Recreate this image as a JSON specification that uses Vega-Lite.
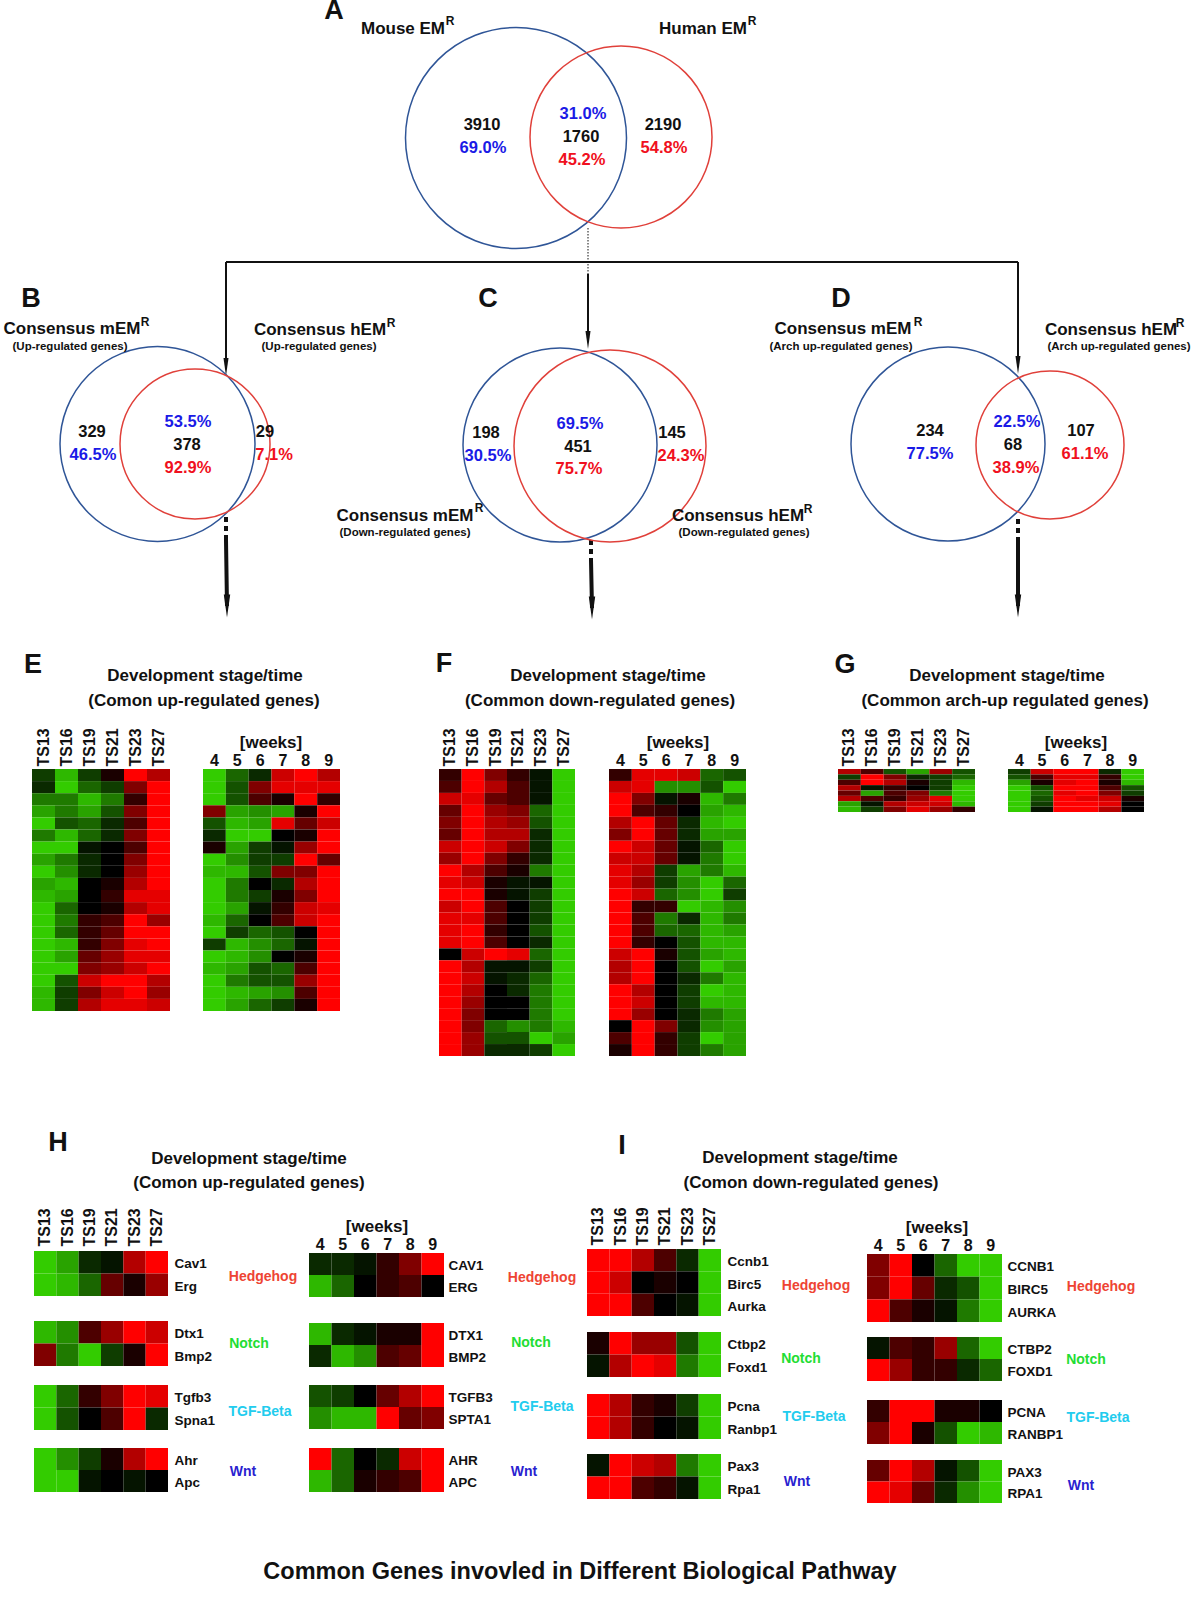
{"$schema":"https://vega.github.io/schema/vega-lite/v6.json","width":1200,"height":1620,"autosize":{"type":"none"},"padding":0,"background":"white",
"config":{"view":{"stroke":null},"font":"Liberation Sans","axisRight":{"labelOffset":2},"axis":{"domain":false,"ticks":false,"grid":false,"labelFont":"Liberation Sans","labelFontSize":16,"labelFontWeight":"bold","labelColor":"#111111","labelOverlap":false,"labelFlush":false,"labelPadding":0}},
"resolve":{"scale":{"x":"independent","y":"independent","color":"independent","size":"independent","stroke":"independent"}},
"datasets":{
"links":[{"from":1,"to":2,"style":"solid"},{"from":1,"to":3,"style":"solid"},{"from":2,"to":4,"style":"solid"},{"from":5,"to":6,"style":"dotted"},{"from":6,"to":7,"style":"solid"},{"from":8,"to":9,"style":"dashed"},{"from":9,"to":10,"style":"thick"},{"from":11,"to":12,"style":"dashed"},{"from":12,"to":13,"style":"thick"},{"from":14,"to":15,"style":"dashed"},{"from":15,"to":16,"style":"thick"}],
"heads":[{"node":3,"kind":"thin"},{"node":4,"kind":"thin"},{"node":7,"kind":"thin"},{"node":10,"kind":"thick"},{"node":13,"kind":"thick"},{"node":16,"kind":"thick"}],
"sets":[{"id":1,"venn":"A","set":"Mouse EMR","species":"mouse"},{"id":2,"venn":"A","set":"Human EMR","species":"human"},{"id":3,"venn":"B","set":"Consensus mEMR up","species":"mouse"},{"id":4,"venn":"B","set":"Consensus hEMR up","species":"human"},{"id":5,"venn":"C","set":"Consensus mEMR down","species":"mouse"},{"id":6,"venn":"C","set":"Consensus hEMR down","species":"human"},{"id":7,"venn":"D","set":"Consensus mEMR arch","species":"mouse"},{"id":8,"venn":"D","set":"Consensus hEMR arch","species":"human"}],
"labels":[{"id":1,"label":"A","kind":"letter","tone":"black"},{"id":2,"label":"Mouse EM","kind":"head","tone":"black"},{"id":3,"label":"R","kind":"sup","tone":"black"},{"id":4,"label":"Human EM","kind":"head","tone":"black"},{"id":5,"label":"R","kind":"sup","tone":"black"},{"id":6,"label":"3910","kind":"num","tone":"black"},{"id":7,"label":"69.0%","kind":"num","tone":"blue"},{"id":8,"label":"31.0%","kind":"num","tone":"blue"},{"id":9,"label":"1760","kind":"num","tone":"black"},{"id":10,"label":"45.2%","kind":"num","tone":"red"},{"id":11,"label":"2190","kind":"num","tone":"black"},{"id":12,"label":"54.8%","kind":"num","tone":"red"},
{"id":13,"label":"B","kind":"letter","tone":"black"},{"id":14,"label":"Consensus mEM","kind":"head","tone":"black"},{"id":15,"label":"R","kind":"sup","tone":"black"},{"id":16,"label":"(Up-regulated genes)","kind":"sub","tone":"black"},{"id":17,"label":"Consensus hEM","kind":"head","tone":"black"},{"id":18,"label":"R","kind":"sup","tone":"black"},{"id":19,"label":"(Up-regulated genes)","kind":"sub","tone":"black"},{"id":20,"label":"329","kind":"num","tone":"black"},{"id":21,"label":"46.5%","kind":"num","tone":"blue"},{"id":22,"label":"53.5%","kind":"num","tone":"blue"},{"id":23,"label":"378","kind":"num","tone":"black"},{"id":24,"label":"92.9%","kind":"num","tone":"red"},{"id":25,"label":"29","kind":"num","tone":"black"},{"id":26,"label":"7.1%","kind":"num","tone":"red"},
{"id":27,"label":"C","kind":"letter","tone":"black"},{"id":28,"label":"Consensus mEM","kind":"head","tone":"black"},{"id":29,"label":"R","kind":"sup","tone":"black"},{"id":30,"label":"(Down-regulated genes)","kind":"sub","tone":"black"},{"id":31,"label":"Consensus hEM","kind":"head","tone":"black"},{"id":32,"label":"R","kind":"sup","tone":"black"},{"id":33,"label":"(Down-regulated genes)","kind":"sub","tone":"black"},{"id":34,"label":"198","kind":"num","tone":"black"},{"id":35,"label":"30.5%","kind":"num","tone":"blue"},{"id":36,"label":"69.5%","kind":"num","tone":"blue"},{"id":37,"label":"451","kind":"num","tone":"black"},{"id":38,"label":"75.7%","kind":"num","tone":"red"},{"id":39,"label":"145","kind":"num","tone":"black"},{"id":40,"label":"24.3%","kind":"num","tone":"red"},
{"id":41,"label":"D","kind":"letter","tone":"black"},{"id":42,"label":"Consensus mEM","kind":"head","tone":"black"},{"id":43,"label":"R","kind":"sup","tone":"black"},{"id":44,"label":"(Arch up-regulated genes)","kind":"sub","tone":"black"},{"id":45,"label":"Consensus hEM","kind":"head","tone":"black"},{"id":46,"label":"R","kind":"sup","tone":"black"},{"id":47,"label":"(Arch up-regulated genes)","kind":"sub","tone":"black"},{"id":48,"label":"234","kind":"num","tone":"black"},{"id":49,"label":"77.5%","kind":"num","tone":"blue"},{"id":50,"label":"22.5%","kind":"num","tone":"blue"},{"id":51,"label":"68","kind":"num","tone":"black"},{"id":52,"label":"38.9%","kind":"num","tone":"red"},{"id":53,"label":"107","kind":"num","tone":"black"},{"id":54,"label":"61.1%","kind":"num","tone":"red"},
{"id":55,"label":"E","kind":"letter","tone":"black"},{"id":56,"label":"Development stage/time","kind":"title","tone":"black"},{"id":57,"label":"(Comon up-regulated genes)","kind":"title","tone":"black"},{"id":58,"label":"[weeks]","kind":"title","tone":"black"},{"id":59,"label":"F","kind":"letter","tone":"black"},{"id":60,"label":"Development stage/time","kind":"title","tone":"black"},{"id":61,"label":"(Common down-regulated genes)","kind":"title","tone":"black"},{"id":62,"label":"[weeks]","kind":"title","tone":"black"},{"id":63,"label":"G","kind":"letter","tone":"black"},{"id":64,"label":"Development stage/time","kind":"title","tone":"black"},{"id":65,"label":"(Common arch-up regulated genes)","kind":"title","tone":"black"},{"id":66,"label":"[weeks]","kind":"title","tone":"black"},{"id":67,"label":"H","kind":"letter","tone":"black"},{"id":68,"label":"Development stage/time","kind":"title","tone":"black"},{"id":69,"label":"(Comon up-regulated genes)","kind":"title","tone":"black"},{"id":70,"label":"[weeks]","kind":"title","tone":"black"},{"id":71,"label":"I","kind":"letter","tone":"black"},{"id":72,"label":"Development stage/time","kind":"title","tone":"black"},{"id":73,"label":"(Comon down-regulated genes)","kind":"title","tone":"black"},{"id":74,"label":"[weeks]","kind":"title","tone":"black"},
{"id":75,"label":"Hedgehog","kind":"path","tone":"hedgehog"},{"id":76,"label":"Notch","kind":"path","tone":"notch"},{"id":77,"label":"TGF-Beta","kind":"path","tone":"tgf"},{"id":78,"label":"Wnt","kind":"path","tone":"wnt"},{"id":79,"label":"Hedgehog","kind":"path","tone":"hedgehog"},{"id":80,"label":"Notch","kind":"path","tone":"notch"},{"id":81,"label":"TGF-Beta","kind":"path","tone":"tgf"},{"id":82,"label":"Wnt","kind":"path","tone":"wnt"},{"id":83,"label":"Hedgehog","kind":"path","tone":"hedgehog"},{"id":84,"label":"Notch","kind":"path","tone":"notch"},{"id":85,"label":"TGF-Beta","kind":"path","tone":"tgf"},{"id":86,"label":"Wnt","kind":"path","tone":"wnt"},{"id":87,"label":"Hedgehog","kind":"path","tone":"hedgehog"},{"id":88,"label":"Notch","kind":"path","tone":"notch"},{"id":89,"label":"TGF-Beta","kind":"path","tone":"tgf"},{"id":90,"label":"Wnt","kind":"path","tone":"wnt"},{"id":91,"label":"Common Genes invovled in Different Biological Pathway","kind":"foot","tone":"black"}],
"E1":[{"s":"TS13","g":1,"v":-3},{"s":"TS16","g":1,"v":-9},{"s":"TS19","g":1,"v":-3},{"s":"TS21","g":1,"v":1},{"s":"TS23","g":1,"v":10},{"s":"TS27","g":1,"v":7},{"s":"TS13","g":2,"v":-2},{"s":"TS16","g":2,"v":-10},{"s":"TS19","g":2,"v":-5},{"s":"TS21","g":2,"v":-3},{"s":"TS23","g":2,"v":5},{"s":"TS27","g":2,"v":10},{"s":"TS13","g":3,"v":-6},{"s":"TS16","g":3,"v":-6},{"s":"TS19","g":3,"v":-9},{"s":"TS21","g":3,"v":-6},{"s":"TS23","g":3,"v":2},{"s":"TS27","g":3,"v":10},{"s":"TS13","g":4,"v":-8},{"s":"TS16","g":4,"v":-6},{"s":"TS19","g":4,"v":-8},{"s":"TS21","g":4,"v":-4},{"s":"TS23","g":4,"v":5},{"s":"TS27","g":4,"v":10},{"s":"TS13","g":5,"v":-10},{"s":"TS16","g":5,"v":-4},{"s":"TS19","g":5,"v":-5},{"s":"TS21","g":5,"v":-2},{"s":"TS23","g":5,"v":3},{"s":"TS27","g":5,"v":10},{"s":"TS13","g":6,"v":-6},{"s":"TS16","g":6,"v":-9},{"s":"TS19","g":6,"v":-5},{"s":"TS21","g":6,"v":-2},{"s":"TS23","g":6,"v":5},{"s":"TS27","g":6,"v":10},{"s":"TS13","g":7,"v":-10},{"s":"TS16","g":7,"v":-10},{"s":"TS19","g":7,"v":-1},{"s":"TS21","g":7,"v":0},{"s":"TS23","g":7,"v":3},{"s":"TS27","g":7,"v":10},{"s":"TS13","g":8,"v":-8},{"s":"TS16","g":8,"v":-6},{"s":"TS19","g":8,"v":-2},{"s":"TS21","g":8,"v":0},{"s":"TS23","g":8,"v":5},{"s":"TS27","g":8,"v":10},{"s":"TS13","g":9,"v":-10},{"s":"TS16","g":9,"v":-7},{"s":"TS19","g":9,"v":-2},{"s":"TS21","g":9,"v":0},{"s":"TS23","g":9,"v":6},{"s":"TS27","g":9,"v":10},{"s":"TS13","g":10,"v":-8},{"s":"TS16","g":10,"v":-9},{"s":"TS19","g":10,"v":0},{"s":"TS21","g":10,"v":1},{"s":"TS23","g":10,"v":7},{"s":"TS27","g":10,"v":10},{"s":"TS13","g":11,"v":-9},{"s":"TS16","g":11,"v":-8},{"s":"TS19","g":11,"v":0},{"s":"TS21","g":11,"v":2},{"s":"TS23","g":11,"v":9},{"s":"TS27","g":11,"v":9},{"s":"TS13","g":12,"v":-10},{"s":"TS16","g":12,"v":-5},{"s":"TS19","g":12,"v":0},{"s":"TS21","g":12,"v":1},{"s":"TS23","g":12,"v":7},{"s":"TS27","g":12,"v":9},{"s":"TS13","g":13,"v":-10},{"s":"TS16","g":13,"v":-6},{"s":"TS19","g":13,"v":2},{"s":"TS21","g":13,"v":3},{"s":"TS23","g":13,"v":10},{"s":"TS27","g":13,"v":6},{"s":"TS13","g":14,"v":-10},{"s":"TS16","g":14,"v":-5},{"s":"TS19","g":14,"v":2},{"s":"TS21","g":14,"v":4},{"s":"TS23","g":14,"v":10},{"s":"TS27","g":14,"v":10},{"s":"TS13","g":15,"v":-10},{"s":"TS16","g":15,"v":-9},{"s":"TS19","g":15,"v":2},{"s":"TS21","g":15,"v":5},{"s":"TS23","g":15,"v":9},{"s":"TS27","g":15,"v":10},{"s":"TS13","g":16,"v":-10},{"s":"TS16","g":16,"v":-8},{"s":"TS19","g":16,"v":4},{"s":"TS21","g":16,"v":6},{"s":"TS23","g":16,"v":9},{"s":"TS27","g":16,"v":9},{"s":"TS13","g":17,"v":-10},{"s":"TS16","g":17,"v":-10},{"s":"TS19","g":17,"v":5},{"s":"TS21","g":17,"v":6},{"s":"TS23","g":17,"v":8},{"s":"TS27","g":17,"v":10},{"s":"TS13","g":18,"v":-10},{"s":"TS16","g":18,"v":-4},{"s":"TS19","g":18,"v":8},{"s":"TS21","g":18,"v":10},{"s":"TS23","g":18,"v":10},{"s":"TS27","g":18,"v":7},{"s":"TS13","g":19,"v":-9},{"s":"TS16","g":19,"v":-3},{"s":"TS19","g":19,"v":5},{"s":"TS21","g":19,"v":8},{"s":"TS23","g":19,"v":10},{"s":"TS27","g":19,"v":6},{"s":"TS13","g":20,"v":-9},{"s":"TS16","g":20,"v":-3},{"s":"TS19","g":20,"v":7},{"s":"TS21","g":20,"v":9},{"s":"TS23","g":20,"v":9},{"s":"TS27","g":20,"v":8}],
"E2":[{"s":"4","g":1,"v":-10},{"s":"5","g":1,"v":-5},{"s":"6","g":1,"v":-2},{"s":"7","g":1,"v":8},{"s":"8","g":1,"v":10},{"s":"9","g":1,"v":7},{"s":"4","g":2,"v":-10},{"s":"5","g":2,"v":-4},{"s":"6","g":2,"v":5},{"s":"7","g":2,"v":9},{"s":"8","g":2,"v":9},{"s":"9","g":2,"v":9},{"s":"4","g":3,"v":-10},{"s":"5","g":3,"v":-4},{"s":"6","g":3,"v":3},{"s":"7","g":3,"v":1},{"s":"8","g":3,"v":10},{"s":"9","g":3,"v":2},{"s":"4","g":4,"v":5},{"s":"5","g":4,"v":-8},{"s":"6","g":4,"v":-7},{"s":"7","g":4,"v":-8},{"s":"8","g":4,"v":1},{"s":"9","g":4,"v":10},{"s":"4","g":5,"v":-4},{"s":"5","g":5,"v":-9},{"s":"6","g":5,"v":-8},{"s":"7","g":5,"v":9},{"s":"8","g":5,"v":4},{"s":"9","g":5,"v":8},{"s":"4","g":6,"v":-2},{"s":"5","g":6,"v":-10},{"s":"6","g":6,"v":-10},{"s":"7","g":6,"v":0},{"s":"8","g":6,"v":1},{"s":"9","g":6,"v":10},{"s":"4","g":7,"v":1},{"s":"5","g":7,"v":-8},{"s":"6","g":7,"v":-3},{"s":"7","g":7,"v":-1},{"s":"8","g":7,"v":6},{"s":"9","g":7,"v":10},{"s":"4","g":8,"v":-10},{"s":"5","g":8,"v":-7},{"s":"6","g":8,"v":-3},{"s":"7","g":8,"v":-3},{"s":"8","g":8,"v":10},{"s":"9","g":8,"v":4},{"s":"4","g":9,"v":-9},{"s":"5","g":9,"v":-9},{"s":"6","g":9,"v":-4},{"s":"7","g":9,"v":5},{"s":"8","g":9,"v":5},{"s":"9","g":9,"v":10},{"s":"4","g":10,"v":-10},{"s":"5","g":10,"v":-6},{"s":"6","g":10,"v":0},{"s":"7","g":10,"v":-2},{"s":"8","g":10,"v":7},{"s":"9","g":10,"v":10},{"s":"4","g":11,"v":-10},{"s":"5","g":11,"v":-6},{"s":"6","g":11,"v":-3},{"s":"7","g":11,"v":1},{"s":"8","g":11,"v":5},{"s":"9","g":11,"v":10},{"s":"4","g":12,"v":-10},{"s":"5","g":12,"v":-8},{"s":"6","g":12,"v":-1},{"s":"7","g":12,"v":2},{"s":"8","g":12,"v":8},{"s":"9","g":12,"v":9},{"s":"4","g":13,"v":-9},{"s":"5","g":13,"v":-5},{"s":"6","g":13,"v":0},{"s":"7","g":13,"v":3},{"s":"8","g":13,"v":8},{"s":"9","g":13,"v":10},{"s":"4","g":14,"v":-10},{"s":"5","g":14,"v":-3},{"s":"6","g":14,"v":-5},{"s":"7","g":14,"v":-4},{"s":"8","g":14,"v":0},{"s":"9","g":14,"v":10},{"s":"4","g":15,"v":-3},{"s":"5","g":15,"v":-9},{"s":"6","g":15,"v":-7},{"s":"7","g":15,"v":-5},{"s":"8","g":15,"v":-1},{"s":"9","g":15,"v":10},{"s":"4","g":16,"v":-10},{"s":"5","g":16,"v":-9},{"s":"6","g":16,"v":-7},{"s":"7","g":16,"v":0},{"s":"8","g":16,"v":1},{"s":"9","g":16,"v":10},{"s":"4","g":17,"v":-9},{"s":"5","g":17,"v":-8},{"s":"6","g":17,"v":-4},{"s":"7","g":17,"v":-5},{"s":"8","g":17,"v":3},{"s":"9","g":17,"v":10},{"s":"4","g":18,"v":-10},{"s":"5","g":18,"v":-6},{"s":"6","g":18,"v":-4},{"s":"7","g":18,"v":-4},{"s":"8","g":18,"v":6},{"s":"9","g":18,"v":10},{"s":"4","g":19,"v":-10},{"s":"5","g":19,"v":-9},{"s":"6","g":19,"v":-8},{"s":"7","g":19,"v":-7},{"s":"8","g":19,"v":3},{"s":"9","g":19,"v":10},{"s":"4","g":20,"v":-10},{"s":"5","g":20,"v":-8},{"s":"6","g":20,"v":-5},{"s":"7","g":20,"v":-3},{"s":"8","g":20,"v":1},{"s":"9","g":20,"v":10}],
"F1":[{"s":"TS13","g":1,"v":2},{"s":"TS16","g":1,"v":10},{"s":"TS19","g":1,"v":5},{"s":"TS21","g":1,"v":2},{"s":"TS23","g":1,"v":-1},{"s":"TS27","g":1,"v":-10},{"s":"TS13","g":2,"v":3},{"s":"TS16","g":2,"v":10},{"s":"TS19","g":2,"v":7},{"s":"TS21","g":2,"v":3},{"s":"TS23","g":2,"v":-1},{"s":"TS27","g":2,"v":-10},{"s":"TS13","g":3,"v":8},{"s":"TS16","g":3,"v":9},{"s":"TS19","g":3,"v":4},{"s":"TS21","g":3,"v":3},{"s":"TS23","g":3,"v":-1},{"s":"TS27","g":3,"v":-10},{"s":"TS13","g":4,"v":4},{"s":"TS16","g":4,"v":10},{"s":"TS19","g":4,"v":6},{"s":"TS21","g":4,"v":5},{"s":"TS23","g":4,"v":-5},{"s":"TS27","g":4,"v":-10},{"s":"TS13","g":5,"v":5},{"s":"TS16","g":5,"v":10},{"s":"TS19","g":5,"v":7},{"s":"TS21","g":5,"v":6},{"s":"TS23","g":5,"v":-4},{"s":"TS27","g":5,"v":-10},{"s":"TS13","g":6,"v":4},{"s":"TS16","g":6,"v":10},{"s":"TS19","g":6,"v":7},{"s":"TS21","g":6,"v":7},{"s":"TS23","g":6,"v":-2},{"s":"TS27","g":6,"v":-10},{"s":"TS13","g":7,"v":8},{"s":"TS16","g":7,"v":10},{"s":"TS19","g":7,"v":8},{"s":"TS21","g":7,"v":5},{"s":"TS23","g":7,"v":-2},{"s":"TS27","g":7,"v":-10},{"s":"TS13","g":8,"v":6},{"s":"TS16","g":8,"v":10},{"s":"TS19","g":8,"v":5},{"s":"TS21","g":8,"v":2},{"s":"TS23","g":8,"v":-2},{"s":"TS27","g":8,"v":-10},{"s":"TS13","g":9,"v":10},{"s":"TS16","g":9,"v":7},{"s":"TS19","g":9,"v":3},{"s":"TS21","g":9,"v":1},{"s":"TS23","g":9,"v":-6},{"s":"TS27","g":9,"v":-10},{"s":"TS13","g":10,"v":9},{"s":"TS16","g":10,"v":8},{"s":"TS19","g":10,"v":1},{"s":"TS21","g":10,"v":-1},{"s":"TS23","g":10,"v":-1},{"s":"TS27","g":10,"v":-10},{"s":"TS13","g":11,"v":10},{"s":"TS16","g":11,"v":10},{"s":"TS19","g":11,"v":1},{"s":"TS21","g":11,"v":-1},{"s":"TS23","g":11,"v":-3},{"s":"TS27","g":11,"v":-10},{"s":"TS13","g":12,"v":8},{"s":"TS16","g":12,"v":10},{"s":"TS19","g":12,"v":3},{"s":"TS21","g":12,"v":0},{"s":"TS23","g":12,"v":-3},{"s":"TS27","g":12,"v":-10},{"s":"TS13","g":13,"v":9},{"s":"TS16","g":13,"v":9},{"s":"TS19","g":13,"v":3},{"s":"TS21","g":13,"v":0},{"s":"TS23","g":13,"v":-3},{"s":"TS27","g":13,"v":-10},{"s":"TS13","g":14,"v":9},{"s":"TS16","g":14,"v":10},{"s":"TS19","g":14,"v":2},{"s":"TS21","g":14,"v":0},{"s":"TS23","g":14,"v":-4},{"s":"TS27","g":14,"v":-10},{"s":"TS13","g":15,"v":9},{"s":"TS16","g":15,"v":10},{"s":"TS19","g":15,"v":3},{"s":"TS21","g":15,"v":0},{"s":"TS23","g":15,"v":-2},{"s":"TS27","g":15,"v":-10},{"s":"TS13","g":16,"v":0},{"s":"TS16","g":16,"v":8},{"s":"TS19","g":16,"v":10},{"s":"TS21","g":16,"v":9},{"s":"TS23","g":16,"v":-5},{"s":"TS27","g":16,"v":-10},{"s":"TS13","g":17,"v":10},{"s":"TS16","g":17,"v":7},{"s":"TS19","g":17,"v":-1},{"s":"TS21","g":17,"v":-1},{"s":"TS23","g":17,"v":-3},{"s":"TS27","g":17,"v":-10},{"s":"TS13","g":18,"v":10},{"s":"TS16","g":18,"v":8},{"s":"TS19","g":18,"v":-1},{"s":"TS21","g":18,"v":-2},{"s":"TS23","g":18,"v":-5},{"s":"TS27","g":18,"v":-10},{"s":"TS13","g":19,"v":10},{"s":"TS16","g":19,"v":7},{"s":"TS19","g":19,"v":0},{"s":"TS21","g":19,"v":-2},{"s":"TS23","g":19,"v":-6},{"s":"TS27","g":19,"v":-10},{"s":"TS13","g":20,"v":10},{"s":"TS16","g":20,"v":6},{"s":"TS19","g":20,"v":0},{"s":"TS21","g":20,"v":0},{"s":"TS23","g":20,"v":-6},{"s":"TS27","g":20,"v":-10},{"s":"TS13","g":21,"v":10},{"s":"TS16","g":21,"v":5},{"s":"TS19","g":21,"v":0},{"s":"TS21","g":21,"v":0},{"s":"TS23","g":21,"v":-6},{"s":"TS27","g":21,"v":-10},{"s":"TS13","g":22,"v":10},{"s":"TS16","g":22,"v":5},{"s":"TS19","g":22,"v":-5},{"s":"TS21","g":22,"v":-7},{"s":"TS23","g":22,"v":-6},{"s":"TS27","g":22,"v":-9},{"s":"TS13","g":23,"v":10},{"s":"TS16","g":23,"v":6},{"s":"TS19","g":23,"v":-4},{"s":"TS21","g":23,"v":-4},{"s":"TS23","g":23,"v":-10},{"s":"TS27","g":23,"v":-8},{"s":"TS13","g":24,"v":10},{"s":"TS16","g":24,"v":6},{"s":"TS19","g":24,"v":-2},{"s":"TS21","g":24,"v":-2},{"s":"TS23","g":24,"v":-3},{"s":"TS27","g":24,"v":-10}],
"F2":[{"s":"4","g":1,"v":2},{"s":"5","g":1,"v":9},{"s":"6","g":1,"v":9},{"s":"7","g":1,"v":8},{"s":"8","g":1,"v":-5},{"s":"9","g":1,"v":-4},{"s":"4","g":2,"v":8},{"s":"5","g":2,"v":9},{"s":"6","g":2,"v":-7},{"s":"7","g":2,"v":-7},{"s":"8","g":2,"v":-4},{"s":"9","g":2,"v":-10},{"s":"4","g":3,"v":10},{"s":"5","g":3,"v":5},{"s":"6","g":3,"v":-1},{"s":"7","g":3,"v":1},{"s":"8","g":3,"v":-9},{"s":"9","g":3,"v":-6},{"s":"4","g":4,"v":10},{"s":"5","g":4,"v":3},{"s":"6","g":4,"v":2},{"s":"7","g":4,"v":0},{"s":"8","g":4,"v":-8},{"s":"9","g":4,"v":-9},{"s":"4","g":5,"v":7},{"s":"5","g":5,"v":10},{"s":"6","g":5,"v":4},{"s":"7","g":5,"v":-2},{"s":"8","g":5,"v":-9},{"s":"9","g":5,"v":-10},{"s":"4","g":6,"v":5},{"s":"5","g":6,"v":10},{"s":"6","g":6,"v":4},{"s":"7","g":6,"v":-2},{"s":"8","g":6,"v":-8},{"s":"9","g":6,"v":-8},{"s":"4","g":7,"v":10},{"s":"5","g":7,"v":8},{"s":"6","g":7,"v":4},{"s":"7","g":7,"v":-1},{"s":"8","g":7,"v":-5},{"s":"9","g":7,"v":-10},{"s":"4","g":8,"v":8},{"s":"5","g":8,"v":8},{"s":"6","g":8,"v":4},{"s":"7","g":8,"v":-1},{"s":"8","g":8,"v":-6},{"s":"9","g":8,"v":-10},{"s":"4","g":9,"v":9},{"s":"5","g":9,"v":7},{"s":"6","g":9,"v":-3},{"s":"7","g":9,"v":-8},{"s":"8","g":9,"v":-6},{"s":"9","g":9,"v":-9},{"s":"4","g":10,"v":9},{"s":"5","g":10,"v":6},{"s":"6","g":10,"v":-3},{"s":"7","g":10,"v":-7},{"s":"8","g":10,"v":-10},{"s":"9","g":10,"v":-5},{"s":"4","g":11,"v":10},{"s":"5","g":11,"v":8},{"s":"6","g":11,"v":-5},{"s":"7","g":11,"v":-7},{"s":"8","g":11,"v":-10},{"s":"9","g":11,"v":-3},{"s":"4","g":12,"v":10},{"s":"5","g":12,"v":2},{"s":"6","g":12,"v":2},{"s":"7","g":12,"v":-10},{"s":"8","g":12,"v":-9},{"s":"9","g":12,"v":-7},{"s":"4","g":13,"v":10},{"s":"5","g":13,"v":3},{"s":"6","g":13,"v":-6},{"s":"7","g":13,"v":-2},{"s":"8","g":13,"v":-9},{"s":"9","g":13,"v":-6},{"s":"4","g":14,"v":10},{"s":"5","g":14,"v":3},{"s":"6","g":14,"v":-5},{"s":"7","g":14,"v":-5},{"s":"8","g":14,"v":-9},{"s":"9","g":14,"v":-8},{"s":"4","g":15,"v":10},{"s":"5","g":15,"v":2},{"s":"6","g":15,"v":0},{"s":"7","g":15,"v":-4},{"s":"8","g":15,"v":-9},{"s":"9","g":15,"v":-9},{"s":"4","g":16,"v":8},{"s":"5","g":16,"v":10},{"s":"6","g":16,"v":1},{"s":"7","g":16,"v":-4},{"s":"8","g":16,"v":-8},{"s":"9","g":16,"v":-9},{"s":"4","g":17,"v":7},{"s":"5","g":17,"v":10},{"s":"6","g":17,"v":0},{"s":"7","g":17,"v":-4},{"s":"8","g":17,"v":-10},{"s":"9","g":17,"v":-8},{"s":"4","g":18,"v":7},{"s":"5","g":18,"v":10},{"s":"6","g":18,"v":0},{"s":"7","g":18,"v":-2},{"s":"8","g":18,"v":-6},{"s":"9","g":18,"v":-9},{"s":"4","g":19,"v":10},{"s":"5","g":19,"v":7},{"s":"6","g":19,"v":0},{"s":"7","g":19,"v":-3},{"s":"8","g":19,"v":-10},{"s":"9","g":19,"v":-9},{"s":"4","g":20,"v":10},{"s":"5","g":20,"v":8},{"s":"6","g":20,"v":0},{"s":"7","g":20,"v":-3},{"s":"8","g":20,"v":-9},{"s":"9","g":20,"v":-9},{"s":"4","g":21,"v":10},{"s":"5","g":21,"v":6},{"s":"6","g":21,"v":0},{"s":"7","g":21,"v":-2},{"s":"8","g":21,"v":-6},{"s":"9","g":21,"v":-8},{"s":"4","g":22,"v":0},{"s":"5","g":22,"v":10},{"s":"6","g":22,"v":5},{"s":"7","g":22,"v":-2},{"s":"8","g":22,"v":-7},{"s":"9","g":22,"v":-8},{"s":"4","g":23,"v":3},{"s":"5","g":23,"v":10},{"s":"6","g":23,"v":2},{"s":"7","g":23,"v":-3},{"s":"8","g":23,"v":-10},{"s":"9","g":23,"v":-8},{"s":"4","g":24,"v":1},{"s":"5","g":24,"v":10},{"s":"6","g":24,"v":2},{"s":"7","g":24,"v":-3},{"s":"8","g":24,"v":-6},{"s":"9","g":24,"v":-8}],
"G1":[{"s":"TS13","g":1,"v":7},{"s":"TS16","g":1,"v":3},{"s":"TS19","g":1,"v":-4},{"s":"TS21","g":1,"v":-8},{"s":"TS23","g":1,"v":6},{"s":"TS27","g":1,"v":-4},{"s":"TS13","g":2,"v":-3},{"s":"TS16","g":2,"v":10},{"s":"TS19","g":2,"v":5},{"s":"TS21","g":2,"v":-2},{"s":"TS23","g":2,"v":-3},{"s":"TS27","g":2,"v":-5},{"s":"TS13","g":3,"v":3},{"s":"TS16","g":3,"v":10},{"s":"TS19","g":3,"v":7},{"s":"TS21","g":3,"v":1},{"s":"TS23","g":3,"v":-3},{"s":"TS27","g":3,"v":-9},{"s":"TS13","g":4,"v":7},{"s":"TS16","g":4,"v":-1},{"s":"TS19","g":4,"v":2},{"s":"TS21","g":4,"v":0},{"s":"TS23","g":4,"v":-3},{"s":"TS27","g":4,"v":-10},{"s":"TS13","g":5,"v":4},{"s":"TS16","g":5,"v":-8},{"s":"TS19","g":5,"v":3},{"s":"TS21","g":5,"v":5},{"s":"TS23","g":5,"v":-6},{"s":"TS27","g":5,"v":-10},{"s":"TS13","g":6,"v":7},{"s":"TS16","g":6,"v":3},{"s":"TS19","g":6,"v":2},{"s":"TS21","g":6,"v":6},{"s":"TS23","g":6,"v":9},{"s":"TS27","g":6,"v":-10},{"s":"TS13","g":7,"v":-8},{"s":"TS16","g":7,"v":-1},{"s":"TS19","g":7,"v":7},{"s":"TS21","g":7,"v":8},{"s":"TS23","g":7,"v":8},{"s":"TS27","g":7,"v":-9},{"s":"TS13","g":8,"v":-9},{"s":"TS16","g":8,"v":-3},{"s":"TS19","g":8,"v":5},{"s":"TS21","g":8,"v":9},{"s":"TS23","g":8,"v":6},{"s":"TS27","g":8,"v":2}],
"G2":[{"s":"4","g":1,"v":-3},{"s":"5","g":1,"v":8},{"s":"6","g":1,"v":10},{"s":"7","g":1,"v":10},{"s":"8","g":1,"v":-2},{"s":"9","g":1,"v":-10},{"s":"4","g":2,"v":-4},{"s":"5","g":2,"v":3},{"s":"6","g":2,"v":9},{"s":"7","g":2,"v":9},{"s":"8","g":2,"v":2},{"s":"9","g":2,"v":-10},{"s":"4","g":3,"v":-8},{"s":"5","g":3,"v":1},{"s":"6","g":3,"v":9},{"s":"7","g":3,"v":10},{"s":"8","g":3,"v":1},{"s":"9","g":3,"v":-9},{"s":"4","g":4,"v":-10},{"s":"5","g":4,"v":-4},{"s":"6","g":4,"v":10},{"s":"7","g":4,"v":10},{"s":"8","g":4,"v":3},{"s":"9","g":4,"v":-4},{"s":"4","g":5,"v":-10},{"s":"5","g":5,"v":-5},{"s":"6","g":5,"v":9},{"s":"7","g":5,"v":10},{"s":"8","g":5,"v":5},{"s":"9","g":5,"v":-3},{"s":"4","g":6,"v":-10},{"s":"5","g":6,"v":-4},{"s":"6","g":6,"v":10},{"s":"7","g":6,"v":9},{"s":"8","g":6,"v":8},{"s":"9","g":6,"v":1},{"s":"4","g":7,"v":-10},{"s":"5","g":7,"v":-3},{"s":"6","g":7,"v":10},{"s":"7","g":7,"v":10},{"s":"8","g":7,"v":9},{"s":"9","g":7,"v":0},{"s":"4","g":8,"v":-10},{"s":"5","g":8,"v":-1},{"s":"6","g":8,"v":10},{"s":"7","g":8,"v":10},{"s":"8","g":8,"v":7},{"s":"9","g":8,"v":0}],
"H1a":[{"s":"TS13","g":"Cav1","v":-10},{"s":"TS16","g":"Cav1","v":-8},{"s":"TS19","g":"Cav1","v":-2},{"s":"TS21","g":"Cav1","v":-1},{"s":"TS23","g":"Cav1","v":7},{"s":"TS27","g":"Cav1","v":10},{"s":"TS13","g":"Erg","v":-10},{"s":"TS16","g":"Erg","v":-9},{"s":"TS19","g":"Erg","v":-5},{"s":"TS21","g":"Erg","v":4},{"s":"TS23","g":"Erg","v":1},{"s":"TS27","g":"Erg","v":6}],
"H1b":[{"s":"TS13","g":"Dtx1","v":-9},{"s":"TS16","g":"Dtx1","v":-7},{"s":"TS19","g":"Dtx1","v":3},{"s":"TS21","g":"Dtx1","v":6},{"s":"TS23","g":"Dtx1","v":10},{"s":"TS27","g":"Dtx1","v":8},{"s":"TS13","g":"Bmp2","v":5},{"s":"TS16","g":"Bmp2","v":-6},{"s":"TS19","g":"Bmp2","v":-10},{"s":"TS21","g":"Bmp2","v":-3},{"s":"TS23","g":"Bmp2","v":1},{"s":"TS27","g":"Bmp2","v":10}],
"H1c":[{"s":"TS13","g":"Tgfb3","v":-10},{"s":"TS16","g":"Tgfb3","v":-5},{"s":"TS19","g":"Tgfb3","v":2},{"s":"TS21","g":"Tgfb3","v":5},{"s":"TS23","g":"Tgfb3","v":10},{"s":"TS27","g":"Tgfb3","v":9},{"s":"TS13","g":"Spna1","v":-10},{"s":"TS16","g":"Spna1","v":-4},{"s":"TS19","g":"Spna1","v":0},{"s":"TS21","g":"Spna1","v":3},{"s":"TS23","g":"Spna1","v":10},{"s":"TS27","g":"Spna1","v":-2}],
"H1d":[{"s":"TS13","g":"Ahr","v":-10},{"s":"TS16","g":"Ahr","v":-7},{"s":"TS19","g":"Ahr","v":-3},{"s":"TS21","g":"Ahr","v":1},{"s":"TS23","g":"Ahr","v":7},{"s":"TS27","g":"Ahr","v":10},{"s":"TS13","g":"Apc","v":-10},{"s":"TS16","g":"Apc","v":-10},{"s":"TS19","g":"Apc","v":-1},{"s":"TS21","g":"Apc","v":0},{"s":"TS23","g":"Apc","v":-1},{"s":"TS27","g":"Apc","v":0}],
"H2a":[{"s":"4","g":"CAV1","v":-2},{"s":"5","g":"CAV1","v":-2},{"s":"6","g":"CAV1","v":-1},{"s":"7","g":"CAV1","v":2},{"s":"8","g":"CAV1","v":5},{"s":"9","g":"CAV1","v":10},{"s":"4","g":"ERG","v":-9},{"s":"5","g":"ERG","v":-5},{"s":"6","g":"ERG","v":0},{"s":"7","g":"ERG","v":2},{"s":"8","g":"ERG","v":3},{"s":"9","g":"ERG","v":0}],
"H2b":[{"s":"4","g":"DTX1","v":-9},{"s":"5","g":"DTX1","v":-2},{"s":"6","g":"DTX1","v":-1},{"s":"7","g":"DTX1","v":1},{"s":"8","g":"DTX1","v":1},{"s":"9","g":"DTX1","v":10},{"s":"4","g":"BMP2","v":-2},{"s":"5","g":"BMP2","v":-9},{"s":"6","g":"BMP2","v":-7},{"s":"7","g":"BMP2","v":3},{"s":"8","g":"BMP2","v":4},{"s":"9","g":"BMP2","v":10}],
"H2c":[{"s":"4","g":"TGFB3","v":-4},{"s":"5","g":"TGFB3","v":-3},{"s":"6","g":"TGFB3","v":0},{"s":"7","g":"TGFB3","v":4},{"s":"8","g":"TGFB3","v":7},{"s":"9","g":"TGFB3","v":10},{"s":"4","g":"SPTA1","v":-7},{"s":"5","g":"SPTA1","v":-9},{"s":"6","g":"SPTA1","v":-9},{"s":"7","g":"SPTA1","v":10},{"s":"8","g":"SPTA1","v":4},{"s":"9","g":"SPTA1","v":5}],
"H2d":[{"s":"4","g":"AHR","v":10},{"s":"5","g":"AHR","v":-5},{"s":"6","g":"AHR","v":0},{"s":"7","g":"AHR","v":-2},{"s":"8","g":"AHR","v":8},{"s":"9","g":"AHR","v":10},{"s":"4","g":"APC","v":-9},{"s":"5","g":"APC","v":-5},{"s":"6","g":"APC","v":1},{"s":"7","g":"APC","v":2},{"s":"8","g":"APC","v":3},{"s":"9","g":"APC","v":10}],
"I1a":[{"s":"TS13","g":"Ccnb1","v":10},{"s":"TS16","g":"Ccnb1","v":10},{"s":"TS19","g":"Ccnb1","v":7},{"s":"TS21","g":"Ccnb1","v":3},{"s":"TS23","g":"Ccnb1","v":-2},{"s":"TS27","g":"Ccnb1","v":-10},{"s":"TS13","g":"Birc5","v":10},{"s":"TS16","g":"Birc5","v":8},{"s":"TS19","g":"Birc5","v":0},{"s":"TS21","g":"Birc5","v":1},{"s":"TS23","g":"Birc5","v":0},{"s":"TS27","g":"Birc5","v":-10},{"s":"TS13","g":"Aurka","v":10},{"s":"TS16","g":"Aurka","v":10},{"s":"TS19","g":"Aurka","v":3},{"s":"TS21","g":"Aurka","v":0},{"s":"TS23","g":"Aurka","v":-1},{"s":"TS27","g":"Aurka","v":-10}],
"I1b":[{"s":"TS13","g":"Ctbp2","v":1},{"s":"TS16","g":"Ctbp2","v":10},{"s":"TS19","g":"Ctbp2","v":6},{"s":"TS21","g":"Ctbp2","v":6},{"s":"TS23","g":"Ctbp2","v":-4},{"s":"TS27","g":"Ctbp2","v":-10},{"s":"TS13","g":"Foxd1","v":-1},{"s":"TS16","g":"Foxd1","v":7},{"s":"TS19","g":"Foxd1","v":10},{"s":"TS21","g":"Foxd1","v":9},{"s":"TS23","g":"Foxd1","v":-6},{"s":"TS27","g":"Foxd1","v":-10}],
"I1c":[{"s":"TS13","g":"Pcna","v":10},{"s":"TS16","g":"Pcna","v":7},{"s":"TS19","g":"Pcna","v":2},{"s":"TS21","g":"Pcna","v":1},{"s":"TS23","g":"Pcna","v":-3},{"s":"TS27","g":"Pcna","v":-10},{"s":"TS13","g":"Ranbp1","v":10},{"s":"TS16","g":"Ranbp1","v":7},{"s":"TS19","g":"Ranbp1","v":2},{"s":"TS21","g":"Ranbp1","v":0},{"s":"TS23","g":"Ranbp1","v":-1},{"s":"TS27","g":"Ranbp1","v":-10}],
"I1d":[{"s":"TS13","g":"Pax3","v":-1},{"s":"TS16","g":"Pax3","v":10},{"s":"TS19","g":"Pax3","v":8},{"s":"TS21","g":"Pax3","v":7},{"s":"TS23","g":"Pax3","v":-6},{"s":"TS27","g":"Pax3","v":-10},{"s":"TS13","g":"Rpa1","v":10},{"s":"TS16","g":"Rpa1","v":10},{"s":"TS19","g":"Rpa1","v":3},{"s":"TS21","g":"Rpa1","v":2},{"s":"TS23","g":"Rpa1","v":-1},{"s":"TS27","g":"Rpa1","v":-10}],
"I2a":[{"s":"4","g":"CCNB1","v":5},{"s":"5","g":"CCNB1","v":10},{"s":"6","g":"CCNB1","v":0},{"s":"7","g":"CCNB1","v":-5},{"s":"8","g":"CCNB1","v":-10},{"s":"9","g":"CCNB1","v":-10},{"s":"4","g":"BIRC5","v":5},{"s":"5","g":"BIRC5","v":10},{"s":"6","g":"BIRC5","v":4},{"s":"7","g":"BIRC5","v":-2},{"s":"8","g":"BIRC5","v":-4},{"s":"9","g":"BIRC5","v":-10},{"s":"4","g":"AURKA","v":10},{"s":"5","g":"AURKA","v":3},{"s":"6","g":"AURKA","v":1},{"s":"7","g":"AURKA","v":-1},{"s":"8","g":"AURKA","v":-6},{"s":"9","g":"AURKA","v":-10}],
"I2b":[{"s":"4","g":"CTBP2","v":-1},{"s":"5","g":"CTBP2","v":3},{"s":"6","g":"CTBP2","v":2},{"s":"7","g":"CTBP2","v":6},{"s":"8","g":"CTBP2","v":-5},{"s":"9","g":"CTBP2","v":-10},{"s":"4","g":"FOXD1","v":10},{"s":"5","g":"FOXD1","v":6},{"s":"6","g":"FOXD1","v":2},{"s":"7","g":"FOXD1","v":2},{"s":"8","g":"FOXD1","v":-2},{"s":"9","g":"FOXD1","v":-5}],
"I2c":[{"s":"4","g":"PCNA","v":2},{"s":"5","g":"PCNA","v":10},{"s":"6","g":"PCNA","v":10},{"s":"7","g":"PCNA","v":1},{"s":"8","g":"PCNA","v":1},{"s":"9","g":"PCNA","v":0},{"s":"4","g":"RANBP1","v":5},{"s":"5","g":"RANBP1","v":10},{"s":"6","g":"RANBP1","v":1},{"s":"7","g":"RANBP1","v":-4},{"s":"8","g":"RANBP1","v":-10},{"s":"9","g":"RANBP1","v":-9}],
"I2d":[{"s":"4","g":"PAX3","v":4},{"s":"5","g":"PAX3","v":10},{"s":"6","g":"PAX3","v":7},{"s":"7","g":"PAX3","v":-1},{"s":"8","g":"PAX3","v":-4},{"s":"9","g":"PAX3","v":-10},{"s":"4","g":"RPA1","v":10},{"s":"5","g":"RPA1","v":9},{"s":"6","g":"RPA1","v":4},{"s":"7","g":"RPA1","v":-2},{"s":"8","g":"RPA1","v":-7},{"s":"9","g":"RPA1","v":-10}]
},
"layer":[
{"data":{"name":"E1"},"mark":"rect","encoding":{"x":{"field":"s","type":"ordinal","title":null,"scale":{"range":[32,170]},"axis":{"orient":"top","offset":-766,"labelAngle":270,"labelAlign":"left","labelBaseline":"middle"}},"y":{"field":"g","type":"ordinal","scale":{"range":[769,1011]},"axis":null},"color":{"field":"v","type":"quantitative","scale":{"domain":[-10,0,10],"range":["#33cc00","#000000","#ff0000"],"interpolate":"rgb"},"legend":null}}},
{"data":{"name":"E2"},"mark":"rect","encoding":{"x":{"field":"s","type":"ordinal","title":null,"scale":{"range":[203,340]},"axis":{"orient":"top","offset":-768,"labelAngle":0,"labelAlign":"center","labelBaseline":"bottom"}},"y":{"field":"g","type":"ordinal","scale":{"range":[769,1011]},"axis":null},"color":{"field":"v","type":"quantitative","scale":{"domain":[-10,0,10],"range":["#33cc00","#000000","#ff0000"],"interpolate":"rgb"},"legend":null}}},
{"data":{"name":"F1"},"mark":"rect","encoding":{"x":{"field":"s","type":"ordinal","title":null,"scale":{"range":[439,575]},"axis":{"orient":"top","offset":-766,"labelAngle":270,"labelAlign":"left","labelBaseline":"middle"}},"y":{"field":"g","type":"ordinal","scale":{"range":[769,1056]},"axis":null},"color":{"field":"v","type":"quantitative","scale":{"domain":[-10,0,10],"range":["#33cc00","#000000","#ff0000"],"interpolate":"rgb"},"legend":null}}},
{"data":{"name":"F2"},"mark":"rect","encoding":{"x":{"field":"s","type":"ordinal","title":null,"scale":{"range":[609,746]},"axis":{"orient":"top","offset":-768,"labelAngle":0,"labelAlign":"center","labelBaseline":"bottom"}},"y":{"field":"g","type":"ordinal","scale":{"range":[769,1056]},"axis":null},"color":{"field":"v","type":"quantitative","scale":{"domain":[-10,0,10],"range":["#33cc00","#000000","#ff0000"],"interpolate":"rgb"},"legend":null}}},
{"data":{"name":"G1"},"mark":"rect","encoding":{"x":{"field":"s","type":"ordinal","title":null,"scale":{"range":[838,975]},"axis":{"orient":"top","offset":-766,"labelAngle":270,"labelAlign":"left","labelBaseline":"middle"}},"y":{"field":"g","type":"ordinal","scale":{"range":[769,812]},"axis":null},"color":{"field":"v","type":"quantitative","scale":{"domain":[-10,0,10],"range":["#33cc00","#000000","#ff0000"],"interpolate":"rgb"},"legend":null}}},
{"data":{"name":"G2"},"mark":"rect","encoding":{"x":{"field":"s","type":"ordinal","title":null,"scale":{"range":[1008,1144]},"axis":{"orient":"top","offset":-768,"labelAngle":0,"labelAlign":"center","labelBaseline":"bottom"}},"y":{"field":"g","type":"ordinal","scale":{"range":[769,812]},"axis":null},"color":{"field":"v","type":"quantitative","scale":{"domain":[-10,0,10],"range":["#33cc00","#000000","#ff0000"],"interpolate":"rgb"},"legend":null}}},
{"data":{"name":"H1a"},"mark":"rect","encoding":{"x":{"field":"s","type":"ordinal","title":null,"scale":{"range":[34,168]},"axis":{"orient":"top","offset":-1246,"labelAngle":270,"labelAlign":"left","labelBaseline":"middle"}},"y":{"field":"g","type":"nominal","sort":null,"title":null,"scale":{"range":[1251,1296]},"axis":{"orient":"right","offset":-1026,"labelFontSize":13.5,"labelAlign":"left"}},"color":{"field":"v","type":"quantitative","scale":{"domain":[-10,0,10],"range":["#33cc00","#000000","#ff0000"],"interpolate":"rgb"},"legend":null}}},
{"data":{"name":"H1b"},"mark":"rect","encoding":{"x":{"field":"s","type":"ordinal","scale":{"range":[34,168]},"axis":null},"y":{"field":"g","type":"nominal","sort":null,"title":null,"scale":{"range":[1321,1366]},"axis":{"orient":"right","offset":-1026,"labelFontSize":13.5,"labelAlign":"left"}},"color":{"field":"v","type":"quantitative","scale":{"domain":[-10,0,10],"range":["#33cc00","#000000","#ff0000"],"interpolate":"rgb"},"legend":null}}},
{"data":{"name":"H1c"},"mark":"rect","encoding":{"x":{"field":"s","type":"ordinal","scale":{"range":[34,168]},"axis":null},"y":{"field":"g","type":"nominal","sort":null,"title":null,"scale":{"range":[1385,1430]},"axis":{"orient":"right","offset":-1026,"labelFontSize":13.5,"labelAlign":"left"}},"color":{"field":"v","type":"quantitative","scale":{"domain":[-10,0,10],"range":["#33cc00","#000000","#ff0000"],"interpolate":"rgb"},"legend":null}}},
{"data":{"name":"H1d"},"mark":"rect","encoding":{"x":{"field":"s","type":"ordinal","scale":{"range":[34,168]},"axis":null},"y":{"field":"g","type":"nominal","sort":null,"title":null,"scale":{"range":[1448,1492]},"axis":{"orient":"right","offset":-1026,"labelFontSize":13.5,"labelAlign":"left"}},"color":{"field":"v","type":"quantitative","scale":{"domain":[-10,0,10],"range":["#33cc00","#000000","#ff0000"],"interpolate":"rgb"},"legend":null}}},
{"data":{"name":"H2a"},"mark":"rect","encoding":{"x":{"field":"s","type":"ordinal","title":null,"scale":{"range":[309,444]},"axis":{"orient":"top","offset":-1252,"labelAngle":0,"labelAlign":"center","labelBaseline":"bottom"}},"y":{"field":"g","type":"nominal","sort":null,"title":null,"scale":{"range":[1253,1297]},"axis":{"orient":"right","offset":-752,"labelFontSize":13.5,"labelAlign":"left"}},"color":{"field":"v","type":"quantitative","scale":{"domain":[-10,0,10],"range":["#33cc00","#000000","#ff0000"],"interpolate":"rgb"},"legend":null}}},
{"data":{"name":"H2b"},"mark":"rect","encoding":{"x":{"field":"s","type":"ordinal","scale":{"range":[309,444]},"axis":null},"y":{"field":"g","type":"nominal","sort":null,"title":null,"scale":{"range":[1323,1367]},"axis":{"orient":"right","offset":-752,"labelFontSize":13.5,"labelAlign":"left"}},"color":{"field":"v","type":"quantitative","scale":{"domain":[-10,0,10],"range":["#33cc00","#000000","#ff0000"],"interpolate":"rgb"},"legend":null}}},
{"data":{"name":"H2c"},"mark":"rect","encoding":{"x":{"field":"s","type":"ordinal","scale":{"range":[309,444]},"axis":null},"y":{"field":"g","type":"nominal","sort":null,"title":null,"scale":{"range":[1385,1429]},"axis":{"orient":"right","offset":-752,"labelFontSize":13.5,"labelAlign":"left"}},"color":{"field":"v","type":"quantitative","scale":{"domain":[-10,0,10],"range":["#33cc00","#000000","#ff0000"],"interpolate":"rgb"},"legend":null}}},
{"data":{"name":"H2d"},"mark":"rect","encoding":{"x":{"field":"s","type":"ordinal","scale":{"range":[309,444]},"axis":null},"y":{"field":"g","type":"nominal","sort":null,"title":null,"scale":{"range":[1448,1492]},"axis":{"orient":"right","offset":-752,"labelFontSize":13.5,"labelAlign":"left"}},"color":{"field":"v","type":"quantitative","scale":{"domain":[-10,0,10],"range":["#33cc00","#000000","#ff0000"],"interpolate":"rgb"},"legend":null}}},
{"data":{"name":"I1a"},"mark":"rect","encoding":{"x":{"field":"s","type":"ordinal","title":null,"scale":{"range":[587,721]},"axis":{"orient":"top","offset":-1245,"labelAngle":270,"labelAlign":"left","labelBaseline":"middle"}},"y":{"field":"g","type":"nominal","sort":null,"title":null,"scale":{"range":[1249,1316]},"axis":{"orient":"right","offset":-473,"labelFontSize":13.5,"labelAlign":"left"}},"color":{"field":"v","type":"quantitative","scale":{"domain":[-10,0,10],"range":["#33cc00","#000000","#ff0000"],"interpolate":"rgb"},"legend":null}}},
{"data":{"name":"I1b"},"mark":"rect","encoding":{"x":{"field":"s","type":"ordinal","scale":{"range":[587,721]},"axis":null},"y":{"field":"g","type":"nominal","sort":null,"title":null,"scale":{"range":[1332,1377]},"axis":{"orient":"right","offset":-473,"labelFontSize":13.5,"labelAlign":"left"}},"color":{"field":"v","type":"quantitative","scale":{"domain":[-10,0,10],"range":["#33cc00","#000000","#ff0000"],"interpolate":"rgb"},"legend":null}}},
{"data":{"name":"I1c"},"mark":"rect","encoding":{"x":{"field":"s","type":"ordinal","scale":{"range":[587,721]},"axis":null},"y":{"field":"g","type":"nominal","sort":null,"title":null,"scale":{"range":[1394,1439]},"axis":{"orient":"right","offset":-473,"labelFontSize":13.5,"labelAlign":"left"}},"color":{"field":"v","type":"quantitative","scale":{"domain":[-10,0,10],"range":["#33cc00","#000000","#ff0000"],"interpolate":"rgb"},"legend":null}}},
{"data":{"name":"I1d"},"mark":"rect","encoding":{"x":{"field":"s","type":"ordinal","scale":{"range":[587,721]},"axis":null},"y":{"field":"g","type":"nominal","sort":null,"title":null,"scale":{"range":[1454,1499]},"axis":{"orient":"right","offset":-473,"labelFontSize":13.5,"labelAlign":"left"}},"color":{"field":"v","type":"quantitative","scale":{"domain":[-10,0,10],"range":["#33cc00","#000000","#ff0000"],"interpolate":"rgb"},"legend":null}}},
{"data":{"name":"I2a"},"mark":"rect","encoding":{"x":{"field":"s","type":"ordinal","title":null,"scale":{"range":[867,1002]},"axis":{"orient":"top","offset":-1253,"labelAngle":0,"labelAlign":"center","labelBaseline":"bottom"}},"y":{"field":"g","type":"nominal","sort":null,"title":null,"scale":{"range":[1254,1322]},"axis":{"orient":"right","offset":-193,"labelFontSize":13.5,"labelAlign":"left"}},"color":{"field":"v","type":"quantitative","scale":{"domain":[-10,0,10],"range":["#33cc00","#000000","#ff0000"],"interpolate":"rgb"},"legend":null}}},
{"data":{"name":"I2b"},"mark":"rect","encoding":{"x":{"field":"s","type":"ordinal","scale":{"range":[867,1002]},"axis":null},"y":{"field":"g","type":"nominal","sort":null,"title":null,"scale":{"range":[1337,1381]},"axis":{"orient":"right","offset":-193,"labelFontSize":13.5,"labelAlign":"left"}},"color":{"field":"v","type":"quantitative","scale":{"domain":[-10,0,10],"range":["#33cc00","#000000","#ff0000"],"interpolate":"rgb"},"legend":null}}},
{"data":{"name":"I2c"},"mark":"rect","encoding":{"x":{"field":"s","type":"ordinal","scale":{"range":[867,1002]},"axis":null},"y":{"field":"g","type":"nominal","sort":null,"title":null,"scale":{"range":[1400,1444]},"axis":{"orient":"right","offset":-193,"labelFontSize":13.5,"labelAlign":"left"}},"color":{"field":"v","type":"quantitative","scale":{"domain":[-10,0,10],"range":["#33cc00","#000000","#ff0000"],"interpolate":"rgb"},"legend":null}}},
{"data":{"name":"I2d"},"mark":"rect","encoding":{"x":{"field":"s","type":"ordinal","scale":{"range":[867,1002]},"axis":null},"y":{"field":"g","type":"nominal","sort":null,"title":null,"scale":{"range":[1460,1503]},"axis":{"orient":"right","offset":-193,"labelFontSize":13.5,"labelAlign":"left"}},"color":{"field":"v","type":"quantitative","scale":{"domain":[-10,0,10],"range":["#33cc00","#000000","#ff0000"],"interpolate":"rgb"},"legend":null}}},
{"data":{"name":"links"},"mark":{"type":"rule","color":"#111111"},"encoding":{"x":{"field":"from","type":"quantitative","scale":{"type":"linear","zero":false,"nice":false,"domain":[1,2,3,4,5,6,7,8,9,10,11,12,13,14,15,16],"range":[226,1018,226,1018,588,588,588,226,226,227,591,591,592,1018,1018,1018]},"axis":null},"x2":{"field":"to"},"y":{"field":"from","type":"quantitative","scale":{"type":"linear","zero":false,"nice":false,"domain":[1,2,3,4,5,6,7,8,9,10,11,12,13,14,15,16],"range":[262,262,367,365,228,274,340,517,540,606,540,560,608,519,540,606]},"axis":null},"y2":{"field":"to"},"strokeWidth":{"field":"style","type":"nominal","scale":{"type":"ordinal","domain":["solid","dotted","dashed","thick"],"range":[2,1,4,4]},"legend":null},"strokeDash":{"field":"style","type":"nominal","scale":{"domain":["solid","dotted","dashed","thick"],"range":[[1,0],[1.5,1.5],[5,4],[1,0]]},"legend":null}}},
{"data":{"name":"heads"},"mark":{"type":"point","shape":"M-0.28,-1L0.28,-1L0,1Z","filled":true,"color":"#111111","opacity":1},"encoding":{"x":{"field":"node","type":"quantitative","scale":{"type":"linear","zero":false,"nice":false,"domain":[1,2,3,4,5,6,7,8,9,10,11,12,13,14,15,16],"range":[226,1018,226,1018,588,588,588,226,226,227,591,591,592,1018,1018,1018]},"axis":null},"y":{"field":"node","type":"quantitative","scale":{"type":"linear","zero":false,"nice":false,"domain":[1,2,3,4,5,6,7,8,9,10,11,12,13,14,15,16],"range":[262,262,367,365,228,274,340,517,540,606,540,560,608,519,540,606]},"axis":null},"size":{"field":"kind","type":"ordinal","scale":{"type":"ordinal","domain":["thin","thick"],"range":[324,529]},"legend":null}}},
{"data":{"name":"sets"},"mark":{"type":"point","shape":"circle","filled":false,"strokeWidth":1.5,"opacity":1},"encoding":{"x":{"field":"id","type":"quantitative","scale":{"type":"linear","zero":false,"nice":false,"domain":[1,2,3,4,5,6,7,8],"range":[516,621,157.5,195,560,610,948,1050]},"axis":null},"y":{"field":"id","type":"quantitative","scale":{"type":"linear","zero":false,"nice":false,"domain":[1,2,3,4,5,6,7,8],"range":[138,137,444,444,445,446,444,445]},"axis":null},"size":{"field":"id","type":"quantitative","scale":{"type":"linear","zero":false,"nice":false,"domain":[1,2,3,4,5,6,7,8],"range":[48841,33124,38025,22500,37636,36864,37636,21904]},"legend":null},"stroke":{"field":"species","type":"nominal","scale":{"domain":["mouse","human"],"range":["#2f5597","#e0403a"]},"legend":null}}},
{"data":{"name":"labels"},"mark":{"type":"text","fontWeight":"bold","align":"center","baseline":"middle","font":"Liberation Sans"},"encoding":{"text":{"field":"label"},"x":{"field":"id","type":"quantitative","scale":{"type":"linear","zero":false,"nice":false,"domain":[1,2,3,4,5,6,7,8,9,10,11,12,13,14,15,16,17,18,19,20,21,22,23,24,25,26,27,28,29,30,31,32,33,34,35,36,37,38,39,40,41,42,43,44,45,46,47,48,49,50,51,52,53,54,55,56,57,58,59,60,61,62,63,64,65,66,67,68,69,70,71,72,73,74,75,76,77,78,79,80,81,82,83,84,85,86,87,88,89,90,91],"range":[334,403,450,703,752,482,483,583,581,582,663,664,31,72,145,70,320,391,319,92,93,188,187,188,265,274,488,405,479,405,738,808,744,486,488,580,578,579,672,681,841,843,918,841,1111,1180,1119,930,930,1017,1013,1016,1081,1085,33,205,204,271,444,608,600,678,845,1007,1005,1076,58,249,249,377,622,800,811,937,263,249,260,243,542,531,542,524,816,801,814,797,1101,1086,1098,1081,580]},"axis":null},"y":{"field":"id","type":"quantitative","scale":{"type":"linear","zero":false,"nice":false,"domain":[1,2,3,4,5,6,7,8,9,10,11,12,13,14,15,16,17,18,19,20,21,22,23,24,25,26,27,28,29,30,31,32,33,34,35,36,37,38,39,40,41,42,43,44,45,46,47,48,49,50,51,52,53,54,55,56,57,58,59,60,61,62,63,64,65,66,67,68,69,70,71,72,73,74,75,76,77,78,79,80,81,82,83,84,85,86,87,88,89,90,91],"range":[11,29,21,29,21,125,148,114,137,160,125,148,299,329,322,347,330,323,347,432,455,422,445,468,432,455,299,516,508,533,516,509,533,433,456,424,447,469,433,456,299,329,322,347,330,323,347,431,454,422,445,468,431,454,665,676,701,743,664,676,701,743,665,676,701,743,1143,1159,1183,1227,1146,1158,1183,1228,1277,1344,1412,1472,1278,1343,1407,1472,1286,1359,1417,1482,1287,1360,1418,1486,1572]},"axis":null},"size":{"field":"kind","type":"ordinal","scale":{"type":"ordinal","domain":["letter","head","sup","num","sub","title","path","foot"],"range":[27,17,12,16.5,11.5,17,14,23.5]},"legend":null},"color":{"field":"tone","type":"nominal","scale":{"domain":["black","blue","red","hedgehog","notch","tgf","wnt"],"range":["#111111","#1a1ae6","#f01020","#ee4433","#22dd33","#22ccee","#2a1fd0"]},"legend":null}}}
]}
